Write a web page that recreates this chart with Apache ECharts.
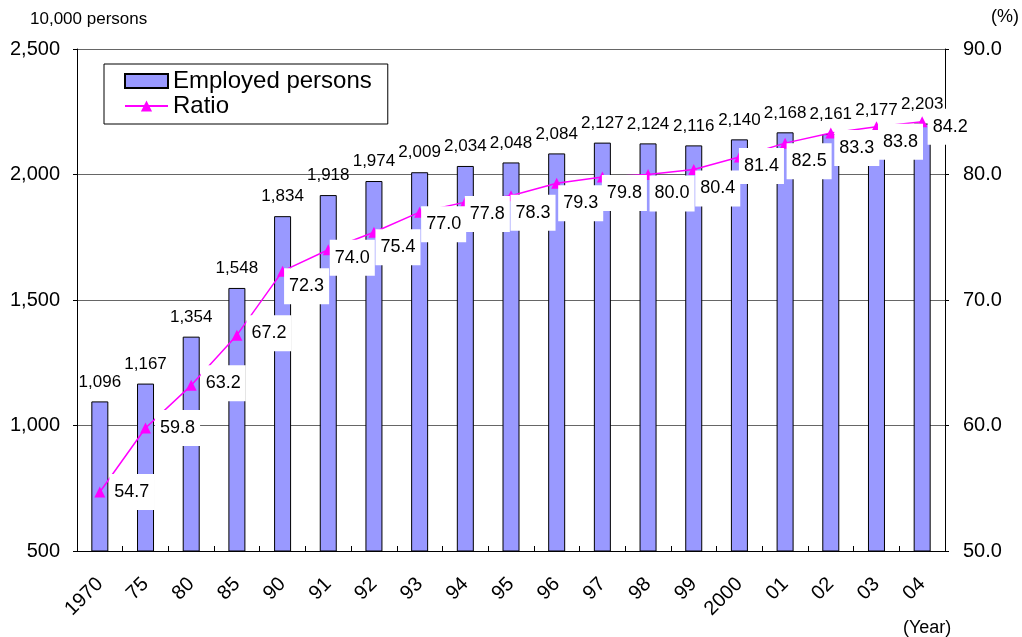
<!DOCTYPE html>
<html><head><meta charset="utf-8">
<script src="https://cdn.jsdelivr.net/npm/echarts@6/dist/echarts.min.js"></script>
<style>html,body{margin:0;padding:0;background:#fff}#c{width:1022px;height:637px}</style>
</head><body><div id="c"></div>
<script>
const categories = ['1970','75','80','85','90','91','92','93','94','95','96','97','98','99','2000','01','02','03','04'];
const employed = [1096,1167,1354,1548,1834,1918,1974,2009,2034,2048,2084,2127,2124,2116,2140,2168,2161,2177,2203];
const ratio = [54.7,59.8,63.2,67.2,72.3,74.0,75.4,77.0,77.8,78.3,79.3,79.8,80.0,80.4,81.4,82.5,83.3,83.8,84.2];
const leftTicks = [500, 2500, 500];
const rightTicks = [50, 90, 10];
// label placement style (per point, as in the reference)
const ratioLabelShift = [[4,0],[4,0],[4,-2],[4,-2],[-4,15],[-4,8],[-4,15],[-4,12],[-6,12],[-6,17],[-4,20],[-6,16],[-4,19],[-4,19],[-6,9],[-4,18],[-2,15],[-4,15],[0,5]];

const F = 'Arial, "Liberation Sans", sans-serif';
const chart = echarts.init(document.getElementById('c'));
chart.setOption({
  animation: false,
  textStyle: {fontFamily: F},
  grid: {left: 77, right: 77, top: 49, bottom: 86},
  legend: {
    left: 104, top: 64, orient: 'vertical', padding: [5, 16, 6, 20], itemGap: 1,
    borderColor: '#000', borderWidth: 1, backgroundColor: '#fff',
    itemWidth: 43, itemHeight: 14,
    textStyle: {fontSize: 24, color: '#000', fontFamily: F},
    data: [{name: 'Employed persons', icon: 'rect'}, {name: 'Ratio'}]
  },
  graphic: [
    {type: 'text', left: 30, top: 11, style: {text: '10,000 persons', font: '17px ' + F, fill: '#000'}},
    {type: 'text', left: 991, top: 8, style: {text: '(%)', font: '18px ' + F, fill: '#000'}},
    {type: 'text', left: 903, top: 619, style: {text: '(Year)', font: '18px ' + F, fill: '#000'}}
  ],
  xAxis: {
    type: 'category', data: categories,
    axisLine: {lineStyle: {color: '#000', width: 1}},
    axisTick: {show: true, inside: true, length: 5, lineStyle: {color: '#000'}},
    axisLabel: {rotate: 45, fontSize: 20, color: '#000', margin: 30, interval: 0}
  },
  yAxis: [
    {
      type: 'value', min: leftTicks[0], max: leftTicks[1], interval: leftTicks[2],
      axisLine: {show: true, lineStyle: {color: '#000'}},
      axisTick: {show: true, length: 4, lineStyle: {color: '#000'}},
      axisLabel: {fontSize: 20, color: '#000', margin: 17,
        formatter: v => v.toLocaleString('en-US')},
      splitLine: {lineStyle: {color: '#666', width: 1}}
    },
    {
      type: 'value', min: rightTicks[0], max: rightTicks[1], interval: rightTicks[2],
      axisLine: {show: true, lineStyle: {color: '#000'}},
      axisTick: {show: true, length: 4, lineStyle: {color: '#000'}},
      axisLabel: {fontSize: 20, color: '#000', margin: 18, formatter: v => v.toFixed(1)},
      splitLine: {show: false}
    }
  ],
  series: [
    {
      name: 'Employed persons', type: 'bar', data: employed, barWidth: 17,
      itemStyle: {color: '#9999FF', borderColor: '#000', borderWidth: 1},
      label: {show: true, position: 'top', distance: 11, fontSize: 17, color: '#000',
        formatter: p => p.value.toLocaleString('en-US')}
    },
    {
      name: 'Ratio', type: 'line', yAxisIndex: 1,
      data: ratio.map((v, i) => ({value: v, label: {offset: ratioLabelShift[i]}})),
      symbol: 'triangle', symbolSize: 11,
      lineStyle: {color: '#FF00FF', width: 1.5},
      itemStyle: {color: '#FF00FF'},
      label: {show: true, position: 'right', distance: 0, fontSize: 18, color: '#000',
        backgroundColor: '#fff', padding: [9, 5], formatter: p => p.value.toFixed(1)},
      z: 5
    }
  ]
});
</script></body></html>
